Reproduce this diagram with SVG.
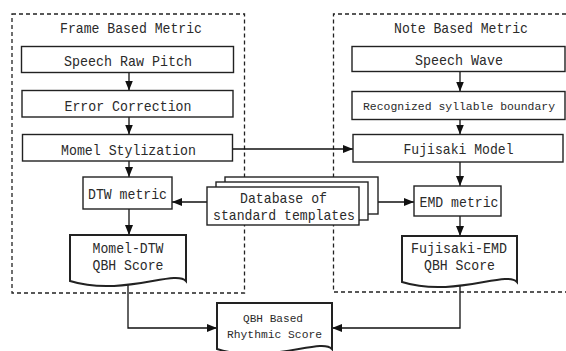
<svg xmlns="http://www.w3.org/2000/svg" width="566" height="351" viewBox="0 0 566 351">
  <style>
    .region { fill: none; stroke: #222; stroke-width: 1.3; stroke-dasharray: 4 3; }
    .box { fill: #fff; stroke: #222; stroke-width: 1.4; }
    .doc { fill: #fff; stroke: #222; stroke-width: 2; }
    .wire { fill: none; stroke: #111; stroke-width: 1.3; }
    text { font-family: "Liberation Mono", "Courier New", monospace; font-size: 15px; fill: #2a2a2a; text-anchor: middle; }
    .small { font-size: 11.6px; }
  </style>
  <defs>
    <marker id="arrow" markerUnits="userSpaceOnUse" markerWidth="10" markerHeight="10" viewBox="0 0 10 10" refX="10" refY="5" orient="auto">
      <path d="M0,1 L10,5 L0,9 Z" fill="#111"/>
    </marker>
  </defs>

  <!-- dashed regions -->
  <g id="frame-region">
    <rect class="region" x="12" y="14" width="232.5" height="279"/>
    <text x="131" y="33" textLength="142" lengthAdjust="spacingAndGlyphs">Frame Based Metric</text>
  </g>
  <g id="note-region">
    <!-- open on the right: the region runs past the page edge -->
    <path class="region" d="M566,14 H333.5 V292 H566"/>
    <text x="461" y="32.5" textLength="134" lengthAdjust="spacingAndGlyphs">Note Based Metric</text>
  </g>

  <!-- connectors -->
  <g id="connectors">
    <line class="wire" x1="129" y1="72.5" x2="129" y2="90.5" marker-end="url(#arrow)"/>
    <line class="wire" x1="129" y1="117" x2="129" y2="134.5" marker-end="url(#arrow)"/>
    <line class="wire" x1="129" y1="161" x2="129" y2="177" marker-end="url(#arrow)"/>
    <line class="wire" x1="129" y1="209" x2="129" y2="235" marker-end="url(#arrow)"/>
    <line class="wire" x1="460" y1="71.5" x2="460" y2="91.5" marker-end="url(#arrow)"/>
    <line class="wire" x1="460" y1="119.5" x2="460" y2="134.5" marker-end="url(#arrow)"/>
    <line class="wire" x1="460" y1="162" x2="460" y2="186" marker-end="url(#arrow)"/>
    <line class="wire" x1="460" y1="216" x2="460" y2="236" marker-end="url(#arrow)"/>
    <line class="wire" x1="232.5" y1="149" x2="353" y2="149" marker-end="url(#arrow)"/>
    <line class="wire" x1="207" y1="202" x2="172" y2="202" marker-end="url(#arrow)"/>
    <line class="wire" x1="378" y1="202" x2="414" y2="202" marker-end="url(#arrow)"/>
    <path class="wire" d="M128,283 V328 H217" marker-end="url(#arrow)"/>
    <path class="wire" d="M460,283 V328 H332" marker-end="url(#arrow)"/>
  </g>

  <!-- frame based chain -->
  <g id="speech-raw-pitch">
    <rect class="box" x="21.5" y="46.5" width="212" height="26"/>
    <text x="128" y="66" textLength="128" lengthAdjust="spacingAndGlyphs">Speech Raw Pitch</text>
  </g>
  <g id="error-correction">
    <rect class="box" x="22" y="90.5" width="211" height="26.5"/>
    <text x="128" y="110.5" textLength="127" lengthAdjust="spacingAndGlyphs">Error Correction</text>
  </g>
  <g id="momel-stylization">
    <rect class="box" x="22.5" y="134.5" width="210" height="26.5"/>
    <text x="128.5" y="154.5" textLength="135" lengthAdjust="spacingAndGlyphs">Momel Stylization</text>
  </g>
  <g id="dtw-metric">
    <rect class="box" x="83" y="177" width="89" height="32"/>
    <text x="127.5" y="199" textLength="79" lengthAdjust="spacingAndGlyphs">DTW metric</text>
  </g>
  <g id="momel-dtw-score">
    <path class="doc" d="M70,235 H186 V281 C175.5,269 122,297 70,281 Z"/>
    <text x="128" y="252.5" textLength="71" lengthAdjust="spacingAndGlyphs">Momel-DTW</text>
    <text x="128" y="270" textLength="71" lengthAdjust="spacingAndGlyphs">QBH Score</text>
  </g>

  <!-- note based chain -->
  <g id="speech-wave">
    <rect class="box" x="352" y="46.5" width="213" height="25"/>
    <text x="459" y="65" textLength="88" lengthAdjust="spacingAndGlyphs">Speech Wave</text>
  </g>
  <g id="syllable-boundary">
    <rect class="box" x="352" y="91.5" width="213" height="28"/>
    <text class="small" x="459" y="110" textLength="192" lengthAdjust="spacingAndGlyphs">Recognized syllable boundary</text>
  </g>
  <g id="fujisaki-model">
    <rect class="box" x="353" y="134.5" width="210" height="27.5"/>
    <text x="458.5" y="154" textLength="110" lengthAdjust="spacingAndGlyphs">Fujisaki Model</text>
  </g>
  <g id="emd-metric">
    <rect class="box" x="414" y="186" width="87" height="30"/>
    <text x="459" y="206.5" textLength="79" lengthAdjust="spacingAndGlyphs">EMD metric</text>
  </g>
  <g id="fujisaki-emd-score">
    <path class="doc" d="M402,236 H517 V282 C506.5,270 453.5,298 402,282 Z"/>
    <text x="459" y="253" textLength="96" lengthAdjust="spacingAndGlyphs">Fujisaki-EMD</text>
    <text x="459.5" y="270" textLength="71" lengthAdjust="spacingAndGlyphs">QBH Score</text>
  </g>

  <!-- shared template store -->
  <g id="template-database">
    <rect class="box" x="225" y="177" width="153" height="37"/>
    <rect class="box" x="216" y="182" width="152" height="38"/>
    <rect class="box" x="207" y="187" width="152" height="38"/>
    <text x="283.5" y="202.5" textLength="87" lengthAdjust="spacingAndGlyphs">Database of</text>
    <text x="284" y="219.5" textLength="142" lengthAdjust="spacingAndGlyphs">standard templates</text>
  </g>

  <!-- combined result -->
  <g id="rhythmic-score">
    <path class="doc" d="M217,303 H332 V349 C321.5,337 268.5,365 217,349 Z"/>
    <text class="small" x="273" y="322" textLength="60" lengthAdjust="spacingAndGlyphs">QBH Based</text>
    <text class="small" x="274.5" y="337.5" textLength="95" lengthAdjust="spacingAndGlyphs">Rhythmic Score</text>
  </g>
</svg>
